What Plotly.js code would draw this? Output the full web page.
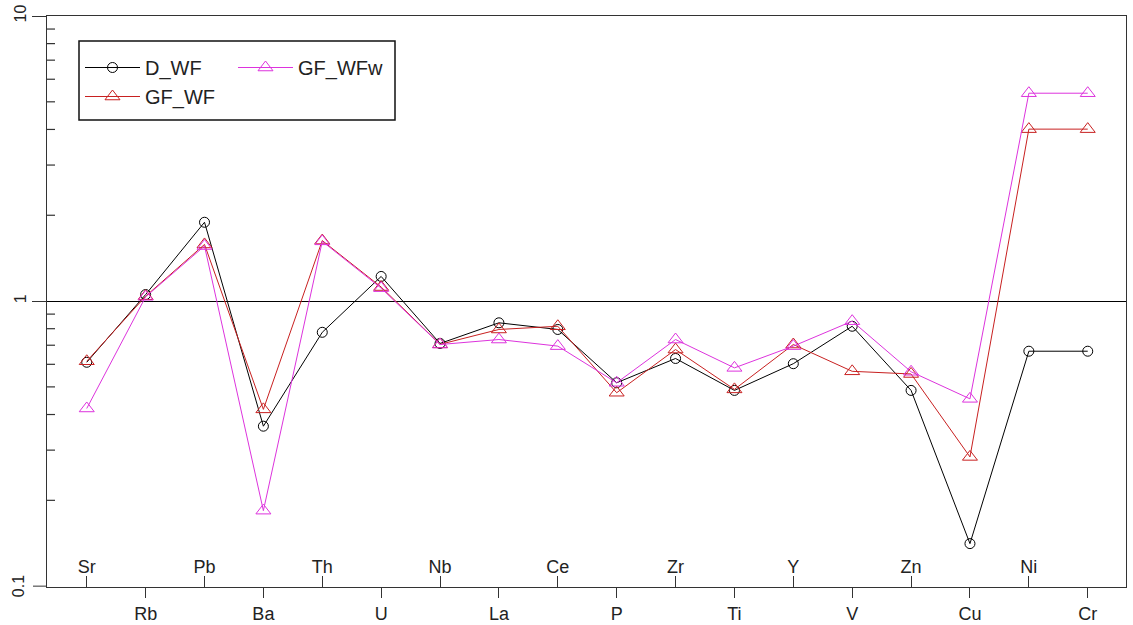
<!DOCTYPE html>
<html>
<head>
<meta charset="utf-8">
<script src="https://cdn.plot.ly/plotly-3.0.1.min.js"></script>
<style>html,body{margin:0;padding:0;background:#fff;}#chart{width:1133px;height:625px;}</style>
</head>
<body>
<div id="chart"></div>
<script>
const categories = ["Sr","Rb","Pb","Ba","Th","U","Nb","La","Ce","P","Zr","Ti","Y","V","Zn","Cu","Ni","Cr"];
const upperLabels = ["Sr","Pb","Th","Nb","Ce","Zr","Y","Zn","Ni"];
const lowerLabels = ["Rb","Ba","U","La","P","Ti","V","Cu","Cr"];
const D_WF   = [0.61,1.054,1.89,0.364,0.777,1.22,0.71,0.839,0.795,0.517,0.629,0.486,0.603,0.816,0.486,0.141,0.667,0.667];
const GF_WF  = [0.615,1.04,1.58,0.417,1.63,1.12,0.705,0.795,0.816,0.477,0.676,0.49,0.704,0.567,0.555,0.284,4.01,4.01];
const GF_WFw = [0.42,1.035,1.56,0.184,1.62,1.11,0.704,0.733,0.695,0.517,0.733,0.583,0.695,0.85,0.565,0.454,5.36,5.36];
const yTickVals = [0.1, 1, 10];
const yTickText = ["0.1", "1", "10"];
const yMinorVals = [0.2,0.3,0.4,0.5,0.6,0.7,0.8,0.9,2,3,4,5,6,7,8,9];

const FONT = "Liberation Sans, Arial, sans-serif";
const axisColor = "#333";
const yRange = [-1.003, 1];

const traces = [
  {x: categories, y: D_WF, name: "D_WF", type: "scatter", mode: "lines+markers",
   line: {color: "#000", width: 1}, marker: {symbol: "circle-open", size: 10, color: "#000", line: {width: 1}},
   legend: "legend", xaxis: "x", yaxis: "y"},
  {x: categories, y: GF_WF, name: "GF_WF", type: "scatter", mode: "lines+markers",
   line: {color: "#c82020", width: 1}, marker: {symbol: "triangle-up-open", size: 13, color: "#c82020", line: {width: 1}},
   legend: "legend", xaxis: "x", yaxis: "y"},
  {x: categories, y: GF_WFw, name: "GF_WFw", type: "scatter", mode: "lines+markers",
   line: {color: "#dd33dd", width: 1}, marker: {symbol: "triangle-up-open", size: 13, color: "#dd33dd", line: {width: 1}},
   legend: "legend2", xaxis: "x2", yaxis: "y"}
];

const plotL = 47, plotR = 1126, plotT = 16, plotB = 587;
const W = 1133, H = 625;
const px = v => (v - plotL) / (plotR - plotL);
const py = v => (plotB - v) / (plotB - plotT);
// paper position of a value on the log y axis (for the inward minor tick marks)
const yPaper = v => (Math.log10(v) - yRange[0]) / (yRange[1] - yRange[0]);

const minorTickShapes = yMinorVals.map(v => ({
  type: "line", xref: "paper", yref: "paper",
  x0: 0, x1: 8 / (plotR - plotL), y0: yPaper(v), y1: yPaper(v),
  line: {color: axisColor, width: 1.2}, layer: "above"
}));

// "0.1" is at the very bottom edge of the axis, where Plotly drops the label; draw it and its tick explicitly
const bottomTick = {
  type: "line", xref: "paper", yref: "paper",
  x0: -14 / (plotR - plotL), x1: 0, y0: yPaper(yTickVals[0]), y1: yPaper(yTickVals[0]),
  line: {color: axisColor, width: 1}
};

const layout = {
  width: W, height: H,
  margin: {l: plotL, r: W - plotR, t: plotT, b: H - plotB, pad: 0},
  paper_bgcolor: "#fff", plot_bgcolor: "#fff",
  font: {family: FONT, color: "#222"},
  showlegend: true,
  xaxis: {
    type: "category", categoryorder: "array", categoryarray: categories,
    range: [-0.675, 17.65], autorange: false,
    tickmode: "array", tickvals: lowerLabels, ticktext: lowerLabels,
    ticks: "outside", ticklen: 10, tickwidth: 1, tickcolor: axisColor,
    tickfont: {size: 18, family: FONT, color: "#222"},
    showline: true, linecolor: axisColor, linewidth: 1, mirror: true,
    showgrid: false, zeroline: false, fixedrange: true
  },
  xaxis2: {
    type: "category", categoryorder: "array", categoryarray: categories,
    overlaying: "x", matches: "x", anchor: "y", side: "bottom",
    range: [-0.675, 17.65], autorange: false,
    tickmode: "array", tickvals: upperLabels, ticktext: upperLabels,
    ticks: "inside", ticklen: 11, tickwidth: 1, tickcolor: axisColor,
    ticklabelposition: "inside",
    tickfont: {size: 18, family: FONT, color: "#222"},
    showline: false, showgrid: false, zeroline: false, fixedrange: true
  },
  yaxis: {
    type: "log", range: yRange, autorange: false,
    tickmode: "array", tickvals: yTickVals.slice(1), ticktext: yTickText.slice(1),
    tickangle: -90, ticklabeloverflow: "allow",
    ticks: "outside", ticklen: 14, tickwidth: 1, tickcolor: axisColor,
    tickfont: {size: 16, family: FONT, color: "#222"},
    showline: true, linecolor: axisColor, linewidth: 1, mirror: true,
    showgrid: true, gridcolor: "#000", gridwidth: 1,
    zeroline: false, fixedrange: true
  },
  annotations: [
    {xref: "paper", yref: "paper", x: px(18), y: yPaper(yTickVals[0]), text: yTickText[0],
     textangle: -90, showarrow: false, xanchor: "center", yanchor: "middle",
     font: {size: 16, family: FONT, color: "#222"}}
  ],
  legend: {
    x: px(80), y: py(48), xanchor: "left", yanchor: "top",
    bgcolor: "rgba(0,0,0,0)", borderwidth: 0,
    font: {size: 20, family: FONT, color: "#222"},
    tracegroupgap: 0, itemwidth: 55
  },
  legend2: {
    x: px(233), y: py(48), xanchor: "left", yanchor: "top",
    bgcolor: "rgba(0,0,0,0)", borderwidth: 0,
    font: {size: 20, family: FONT, color: "#222"},
    itemwidth: 55
  },
  shapes: [
    {type: "rect", xref: "paper", yref: "paper", x0: px(79), x1: px(395), y0: py(120), y1: py(41),
     line: {color: "#111", width: 1.5}, fillcolor: "rgba(0,0,0,0)", layer: "above"},
    bottomTick
  ].concat(minorTickShapes)
};

Plotly.newPlot("chart", traces, layout, {displayModeBar: false, staticPlot: true});
</script>
</body>
</html>
